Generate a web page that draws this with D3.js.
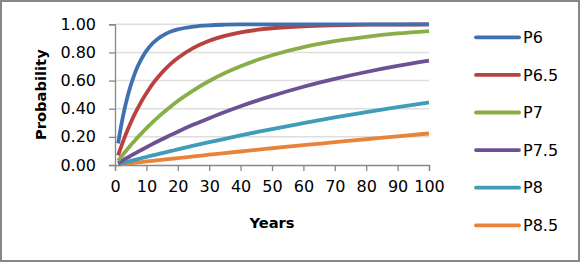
<!DOCTYPE html>
<html>
<head>
<meta charset="utf-8">
<script src="https://cdn.jsdelivr.net/npm/d3@7"></script>
<style>
  html, body { margin: 0; padding: 0; background: #fff; }
  svg { display: block; }
  text { font-family: "DejaVu Sans", sans-serif; fill: #000; }
</style>
</head>
<body>
<svg id="chart" width="581" height="263"></svg>
<script>
const years = [1,2,3,4,5,6,7,8,9,10,12,14,16,18,20,25,30,35,40,45,50,60,70,80,90,100];

const p6   = [0.154,0.283,0.393,0.487,0.565,0.632,0.689,0.736,0.777,0.811,0.865,0.903,0.930,0.950,0.964,0.984,0.993,0.997,0.999,0.9994,0.9998,1.000,1.000,1.000,1.000,1.000];
const p65  = [0.069,0.133,0.193,0.249,0.300,0.349,0.393,0.435,0.474,0.510,0.576,0.632,0.681,0.724,0.760,0.832,0.883,0.918,0.943,0.960,0.972,0.986,0.993,0.997,0.998,0.999];
const p7   = [0.030,0.059,0.087,0.114,0.141,0.166,0.191,0.215,0.239,0.261,0.305,0.346,0.384,0.420,0.455,0.531,0.597,0.654,0.702,0.744,0.780,0.838,0.880,0.911,0.935,0.952];
const p75  = [0.013,0.027,0.040,0.053,0.065,0.078,0.090,0.102,0.114,0.126,0.150,0.172,0.194,0.216,0.237,0.287,0.333,0.377,0.418,0.456,0.491,0.556,0.612,0.661,0.704,0.741];
const p8   = [0.006,0.012,0.017,0.023,0.029,0.035,0.040,0.046,0.052,0.057,0.068,0.079,0.090,0.100,0.111,0.137,0.162,0.186,0.210,0.233,0.255,0.297,0.338,0.375,0.411,0.445];
const p85  = [0.0025,0.005,0.0076,0.010,0.0126,0.015,0.0176,0.020,0.0225,0.025,0.030,0.035,0.040,0.0445,0.049,0.061,0.073,0.085,0.096,0.108,0.119,0.141,0.162,0.183,0.204,0.224];

const seriesNames = ["P6","P6.5","P7","P7.5","P8","P8.5"];
const seriesValues = [p6, p65, p7, p75, p8, p85];
const seriesColors = ["#3f70af","#b8423f","#8aae47","#6e5094","#409cb8","#ea833a"];

const xTicks = [0,10,20,30,40,50,60,70,80,90,100];
const yTicks = [0,0.2,0.4,0.6,0.8,1.0];

const svg = d3.select("#chart");

// outer border
svg.append("rect")
  .attr("x", 1).attr("y", 1).attr("width", 578).attr("height", 260)
  .attr("fill", "#fff").attr("stroke", "#868686").attr("stroke-width", 2);

const x = d3.scaleLinear().domain([0, 100]).range([115, 429]);
const y = d3.scaleLinear().domain([0, 1]).range([165, 24.3]);

// gridlines
svg.append("g")
  .selectAll("line")
  .data(yTicks.filter(d => d > 0))
  .join("line")
  .attr("x1", x(0)).attr("x2", x(100))
  .attr("y1", d => y(d)).attr("y2", d => y(d))
  .attr("stroke", "#dedede").attr("stroke-width", 1.5);

// y axis
const yAxis = svg.append("g")
  .attr("transform", `translate(${x(0)},0)`)
  .call(d3.axisLeft(y).tickValues(yTicks).tickFormat(d3.format(".2f")).tickSize(6).tickPadding(13));
yAxis.select(".domain").attr("stroke", "#868686").attr("stroke-width", 1.3);
yAxis.selectAll(".tick line").attr("stroke", "#868686").attr("stroke-width", 1.3);
yAxis.selectAll(".tick text").attr("font-size", 16).attr("font-family", "DejaVu Sans").attr("fill", "#000");

// x axis
const xAxis = svg.append("g")
  .attr("transform", `translate(0,${y(0)})`)
  .call(d3.axisBottom(x).tickValues(xTicks).tickFormat(d3.format("d")).tickSize(6).tickPadding(10));
xAxis.select(".domain").attr("stroke", "#868686").attr("stroke-width", 1.3);
xAxis.selectAll(".tick line").attr("stroke", "#868686").attr("stroke-width", 1.3);
xAxis.selectAll(".tick text").attr("font-size", 16).attr("font-family", "DejaVu Sans").attr("fill", "#000");

// lines
const line = d3.line()
  .x((d, i) => x(years[i]))
  .y(d => y(d))
  .curve(d3.curveMonotoneX);

svg.append("g")
  .selectAll("path")
  .data(seriesValues.slice().reverse())
  .join("path")
  .attr("d", d => line(d))
  .attr("fill", "none")
  .attr("stroke", (d, i) => seriesColors[seriesValues.length - 1 - i])
  .attr("stroke-width", 3.8)
  .attr("stroke-linejoin", "round");

// axis titles
svg.append("text")
  .attr("x", x(50)).attr("y", 228)
  .attr("text-anchor", "middle")
  .attr("font-size", 14.7).attr("font-weight", "bold")
  .text("Years");

svg.append("text")
  .attr("transform", `translate(46,${(y(0) + y(1)) / 2}) rotate(-90)`)
  .attr("text-anchor", "middle")
  .attr("font-size", 14.7).attr("font-weight", "bold")
  .text("Probability");

// legend
const legend = svg.append("g")
  .selectAll("g")
  .data(seriesNames)
  .join("g")
  .attr("transform", (d, i) => `translate(476,${37.3 + i * 37.6})`);
legend.append("line")
  .attr("x1", 0).attr("x2", 43).attr("y1", 0).attr("y2", 0)
  .attr("stroke", (d, i) => seriesColors[i])
  .attr("stroke-width", 3.8)
  .attr("stroke-linecap", "round");
legend.append("text")
  .attr("x", 47).attr("y", 0).attr("dy", "0.36em")
  .attr("font-size", 16)
  .text(d => d);
</script>
</body>
</html>
